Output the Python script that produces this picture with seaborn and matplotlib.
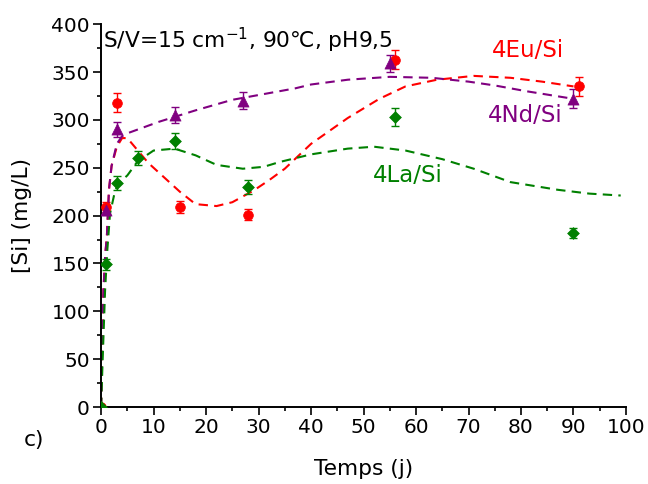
import seaborn as sns
import matplotlib.pyplot as plt
from matplotlib.ticker import MultipleLocator

# points mesurés
eu_t = [0, 1, 3, 15, 28, 56, 91]
eu_si = [0, 209, 318, 209, 201, 363, 335]
eu_err = [0, 5, 10, 6, 6, 10, 10]

nd_t = [0, 1, 3, 14, 27, 55, 90]
nd_si = [0, 206, 290, 305, 320, 359, 322]
nd_err = [0, 5, 8, 8, 9, 9, 10]

la_t = [0, 1, 3, 7, 14, 28, 56, 90]
la_si = [0, 149, 234, 260, 278, 230, 303, 182]
la_err = [0, 6, 7, 7, 8, 7, 9, 5]

# courbes d'ajustement
eu_fit_t = [0, 0.2, 0.45, 0.8, 1.1, 1.5, 2, 3, 4, 5, 7, 9, 12, 15, 18, 22, 25, 29, 32, 35, 40, 47, 53, 58, 64, 71, 78, 84, 90]
eu_fit_si = [0, 60, 122, 160, 178, 227, 252, 272, 281, 281, 268, 255, 240, 225, 212, 210, 214, 226, 237, 249, 275, 302, 322, 335, 342, 346, 344, 340, 335]

nd_fit_t = [0, 0.2, 0.45, 0.8, 1.1, 1.5, 2, 3, 4, 5, 7, 11, 18, 25, 32, 37, 40, 47, 55, 63, 70, 75, 81, 90]
nd_fit_si = [0, 60, 122, 160, 178, 227, 252, 275, 283, 286, 290, 298, 310, 321, 328, 333, 337, 342, 345, 344, 340, 336, 330, 322]

la_fit_t = [0, 0.3, 0.76, 1.2, 1.7, 2.5, 3, 4, 5, 7, 10, 14, 18, 22, 27, 31, 34, 40, 47, 52, 58, 65, 71, 78, 87, 93, 99]
la_fit_si = [0, 50, 122, 165, 202, 222, 230, 237, 242, 257, 268, 270, 263, 253, 249, 251, 256, 264, 270, 272, 268, 259, 249, 235, 227, 223, 221]

sns.set_style("ticks")
plt.rcParams['font.family'] = ['DejaVu Sans']
plt.rcParams.update({"text.color": "black", "axes.labelcolor": "black",
                     "xtick.color": "black", "ytick.color": "black"})

fig = plt.figure(figsize=(6.48, 4.84), dpi=100)
ax = fig.add_axes([0.156, 0.159, 0.81, 0.791])

series = [
    (eu_t, eu_si, eu_err, eu_fit_t, eu_fit_si, "#ff0000", "o", 7),
    (nd_t, nd_si, nd_err, nd_fit_t, nd_fit_si, "#800080", "^", 8),
    (la_t, la_si, la_err, la_fit_t, la_fit_si, "#008000", "D", 6),
]
for t, si, err, ft, fsi, c, m, ms in series:
    sns.lineplot(x=ft, y=fsi, ax=ax, color=c, lw=1.5, dashes=False,
                 linestyle=(0, (4.5, 3)), sort=False)
    ax.errorbar(t, si, yerr=err, fmt="none", ecolor=c, elinewidth=1,
                capsize=3, capthick=1)
    sns.scatterplot(x=t, y=si, ax=ax, color=c, marker=m, s=ms ** 2,
                    edgecolor=c, linewidth=0.5, zorder=5)

ax.set_xlim(0, 100)
ax.set_ylim(0, 400)
ax.xaxis.set_major_locator(MultipleLocator(10))
ax.xaxis.set_minor_locator(MultipleLocator(5))
ax.yaxis.set_major_locator(MultipleLocator(50))
ax.yaxis.set_minor_locator(MultipleLocator(25))
ax.tick_params(which="major", direction="out", length=6, width=1.2,
               labelsize=14.5, color="black", labelcolor="black", pad=2)
ax.tick_params(which="minor", direction="out", length=3, width=1.2,
               color="black")
for s in ["left", "bottom"]:
    ax.spines[s].set_linewidth(1.4)
    ax.spines[s].set_color("black")
sns.despine(ax=ax)
ax.spines["left"].set_bounds(0, 400)

ax.set_xlabel("Temps (j)", fontsize=15.7, labelpad=16, color="black")
ax.set_ylabel("[Si] (mg/L)", fontsize=15.7, labelpad=14, color="black")

ax.text(0.3, 375, "S/V=15 cm$^{-1}$, 90℃, pH9,5", fontsize=15.7,
        va="baseline", ha="left", color="black")
ax.text(81.3, 372, "4Eu/Si", color="#ff0000", fontsize=16.5, ha="center", va="center")
ax.text(80.8, 305, "4Nd/Si", color="#800080", fontsize=16.5, ha="center", va="center")
ax.text(58.5, 242, "4La/Si", color="#008000", fontsize=16.5, ha="center", va="center")
fig.text(34 / 648, 1 - 440 / 484, "c)", fontsize=15.7, ha="center", va="center",
         color="black")

fig.savefig("out.png", dpi=100)
